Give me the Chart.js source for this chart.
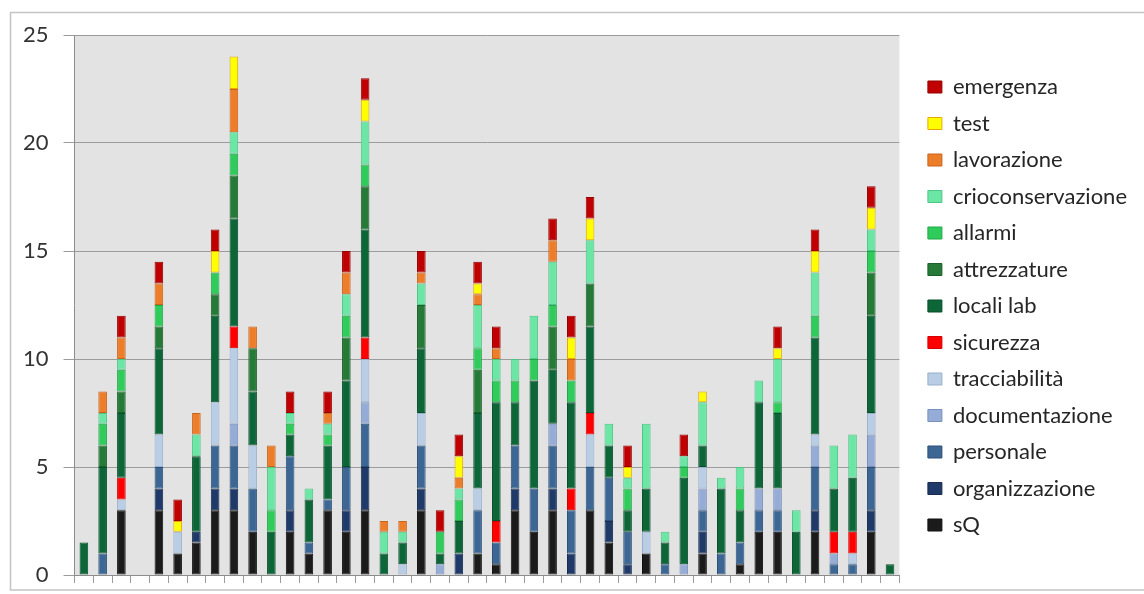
<!DOCTYPE html>
<html>
<head>
<meta charset="utf-8">
<title>Stacked bars</title>
<script src="https://cdn.jsdelivr.net/npm/chart.js@4.4.1/dist/chart.umd.min.js"></script>
<style>
    body { margin: 0; background: #ffffff; }
    #chartBox { width: 1144px; height: 594px; }
</style>
</head>
<body>
<div id="chartBox"><canvas id="stackChart" width="1144" height="594"></canvas></div>
<script>
// Categories (the bars have no labels in the original)
const categories = ['1', '2', '3', '4', '5', '6', '7', '8', '9', '10', '11', '12', '13', '14', '15', '16', '17', '18', '19', '20', '21', '22',
    '23', '24', '25', '26', '27', '28', '29', '30', '31', '32', '33', '34', '35', '36', '37', '38', '39', '40', '41', '42', '43', '44'];

// Series values, bottom of the stack first
const sQ =             [0, 0, 3, 0, 3, 1, 1.5, 3, 3, 2, 0, 2, 1, 3, 2, 3, 0, 0, 3, 0, 0, 1, 0.5, 3, 2, 3, 0, 3, 1.5, 0, 1, 0, 0, 1, 0, 0.5, 2, 2, 0, 2, 0, 0, 2, 0];
const organizzazione = [0, 0, 0, 0, 1, 0, 0.5, 1, 1, 0, 0, 1, 0, 0, 1, 2, 0, 0, 1, 0, 1, 0, 0, 1, 0, 1, 1, 0, 1, 0.5, 0, 0, 0, 1, 0, 0, 0, 0, 0, 1, 0, 0, 1, 0];
const personale =      [0, 1, 0, 0, 1, 0, 0, 2, 2, 2, 0, 2.5, 0.5, 0.5, 2, 2, 0, 0, 2, 0, 0, 2, 1, 2, 2, 2, 2, 2, 2, 1.5, 0, 0.5, 0, 1, 1, 1, 1, 1, 0, 2, 0.5, 0.5, 2, 0];
const documentazione = [0, 0, 0, 0, 0, 0, 0, 0, 1, 0, 0, 0, 0, 0, 0, 1, 0, 0, 0, 0.5, 0, 0, 0, 0, 0, 1, 0, 0, 0, 0, 0, 0, 0.5, 1, 0, 0, 1, 1, 0, 1, 0.5, 0, 1.5, 0];
const tracciabilita =  [0, 0, 0.5, 0, 1.5, 1, 0, 2, 3.5, 2, 0, 0, 0, 0, 0, 2, 0, 0.5, 1.5, 0, 0, 1, 0, 0, 0, 0, 0, 1.5, 0, 0, 1, 0, 0, 1, 0, 0, 0, 0, 0, 0.5, 0, 0.5, 1, 0];
const sicurezza =      [0, 0, 1, 0, 0, 0, 0, 0, 1, 0, 0, 0, 0, 0, 0, 1, 0, 0, 0, 0, 0, 0, 1, 0, 0, 0, 1, 1, 0, 0, 0, 0, 0, 0, 0, 0, 0, 0, 0, 0, 1, 1, 0, 0];
const localiLab =      [1.5, 4, 3, 0, 4, 0, 3.5, 4, 5, 2.5, 2, 1, 2, 2.5, 4, 5, 1, 1, 3, 0.5, 1.5, 3.5, 5.5, 2, 5, 2.5, 4, 4, 1.5, 1, 2, 1, 4, 1, 3, 1.5, 4, 3.5, 2, 4.5, 2, 2.5, 4.5, 0.5];
const attrezzature =   [0, 1, 1, 0, 1, 0, 0, 1, 2, 2, 0, 0, 0, 0, 2, 2, 0, 0, 2, 0, 0, 2, 0, 0, 0, 2, 0, 2, 0, 0, 0, 0, 0, 0, 0, 0, 0, 0, 0, 0, 0, 0, 2, 0];
const allarmi =        [0, 1, 1, 0, 1, 0, 0, 1, 1, 0, 1, 0.5, 0, 0.5, 1, 1, 0, 0, 0, 1, 1, 1, 1, 1, 1, 1, 1, 0, 0, 1, 0, 0, 0.5, 0, 0, 1, 0, 0.5, 0, 1, 0, 0, 1, 0];
const crioconservazione = [0, 0.5, 0.5, 0, 0, 0, 1, 0, 1, 0, 2, 0.5, 0.5, 0.5, 1, 2, 1, 0.5, 1, 0, 0.5, 2, 1, 1, 2, 2, 0, 2, 1, 0.5, 3, 0.5, 0.5, 2, 0.5, 1, 1, 2, 1, 2, 2, 2, 1, 0];
const lavorazione =    [0, 1, 1, 0, 1, 0, 1, 0, 2, 1, 1, 0, 0, 0.5, 1, 0, 0.5, 0.5, 0.5, 0, 0.5, 0.5, 0.5, 0, 0, 1, 1, 0, 0, 0, 0, 0, 0, 0, 0, 0, 0, 0, 0, 0, 0, 0, 0, 0];
const test =           [0, 0, 0, 0, 0, 0.5, 0, 1, 1.5, 0, 0, 0, 0, 0, 0, 1, 0, 0, 0, 0, 1, 0.5, 0, 0, 0, 0, 1, 1, 0, 0.5, 0, 0, 0, 0.5, 0, 0, 0, 0.5, 0, 1, 0, 0, 1, 0];
const emergenza =      [0, 0, 1, 0, 1, 1, 0, 1, 0, 0, 0, 1, 0, 1, 1, 1, 0, 0, 1, 1, 1, 1, 1, 0, 0, 1, 1, 1, 0, 1, 0, 0, 1, 0, 0, 0, 0, 1, 0, 1, 0, 0, 1, 0];

// Y axis ticks
const yTicks = [0, 5, 10, 15, 20, 25];

// Series list: label, values, fill, outline
const series = [
    ['sQ', sQ, '#1b1b1b', '#111111'],
    ['organizzazione', organizzazione, '#1f3a68', '#172c50'],
    ['personale', personale, '#3c6694', '#2d5076'],
    ['documentazione', documentazione, '#95acd6', '#7890bb'],
    ['tracciabilità', tracciabilita, '#b9cde5', '#98b0cc'],
    ['sicurezza', sicurezza, '#ff0000', '#d40000'],
    ['locali lab', localiLab, '#0c6638', '#08502b'],
    ['attrezzature', attrezzature, '#247a36', '#1b6029'],
    ['allarmi', allarmi, '#2fcc5c', '#22a849'],
    ['crioconservazione', crioconservazione, '#6be6a5', '#4fc487'],
    ['lavorazione', lavorazione, '#ee7d2a', '#c8651c'],
    ['test', test, '#ffff00', '#e6a800'],
    ['emergenza', emergenza, '#c00000', '#960000']
];

// Gray plot area and the light outer frame
const backgroundPlugin = {
    id: 'plotBackground',
    beforeDraw(chart) {
        const { ctx, chartArea } = chart;
        ctx.save();
        ctx.fillStyle = '#ffffff';
        ctx.fillRect(0, 0, chart.width, chart.height);
        ctx.strokeStyle = '#c4c4c4';
        ctx.lineWidth = 1.5;
        ctx.strokeRect(10.5, 12.5, chart.width, 577.5);
        ctx.fillStyle = '#e3e3e3';
        ctx.fillRect(chartArea.left, chartArea.top, chartArea.right - chartArea.left, chartArea.bottom - chartArea.top);
        ctx.restore();
    },
    // Push the legend a little away from the plot
    afterLayout(chart) {
        const legend = chart.legend;
        legend.left += 14;
        legend.right += 14;
        legend.top -= 3;
        legend.bottom -= 3;
    }
};

const datasets = series.map(([label, values, fill, outline]) => ({
    label: label,
    data: values.map(v => (v === 0 ? null : v)),
    backgroundColor: fill,
    borderColor: outline,
    borderWidth: 1,
    borderSkipped: false,
    categoryPercentage: 1,
    barPercentage: 0.46
}));

const ctx = document.getElementById('stackChart').getContext('2d');
new Chart(ctx, {
    type: 'bar',
    data: {
        labels: categories,
        datasets: datasets
    },
    options: {
        responsive: false,
        animation: false,
        layout: {
            padding: { left: 8, top: 35, right: 21, bottom: 11 }
        },
        plugins: {
            tooltip: { enabled: false },
            legend: {
                position: 'right',
                reverse: true,
                labels: {
                    boxWidth: 14,
                    boxHeight: 12,
                    padding: 14.5,
                    color: '#262626',
                    font: { family: 'Lato', size: 22 }
                }
            }
        },
        scales: {
            x: {
                stacked: true,
                grid: {
                    display: true,
                    drawOnChartArea: false,
                    drawTicks: true,
                    tickLength: 8,
                    color: '#9a9a9a'
                },
                border: { color: '#8c8c8c' },
                ticks: { display: false }
            },
            y: {
                stacked: true,
                min: 0,
                max: 25,
                afterBuildTicks(axis) {
                    axis.ticks = yTicks.map(v => ({ value: v }));
                },
                // let the end labels hang over the padding instead of shrinking the plot
                afterFit(axis) {
                    axis.paddingTop = 0;
                    axis.paddingBottom = 0;
                },
                grid: {
                    color: '#9c9c9c',
                    tickLength: 11
                },
                border: { color: '#8c8c8c' },
                ticks: {
                    padding: 15,
                    color: '#333333',
                    font: { family: 'Lato', size: 22 }
                }
            }
        }
    },
    plugins: [backgroundPlugin]
});
</script>
</body>
</html>
